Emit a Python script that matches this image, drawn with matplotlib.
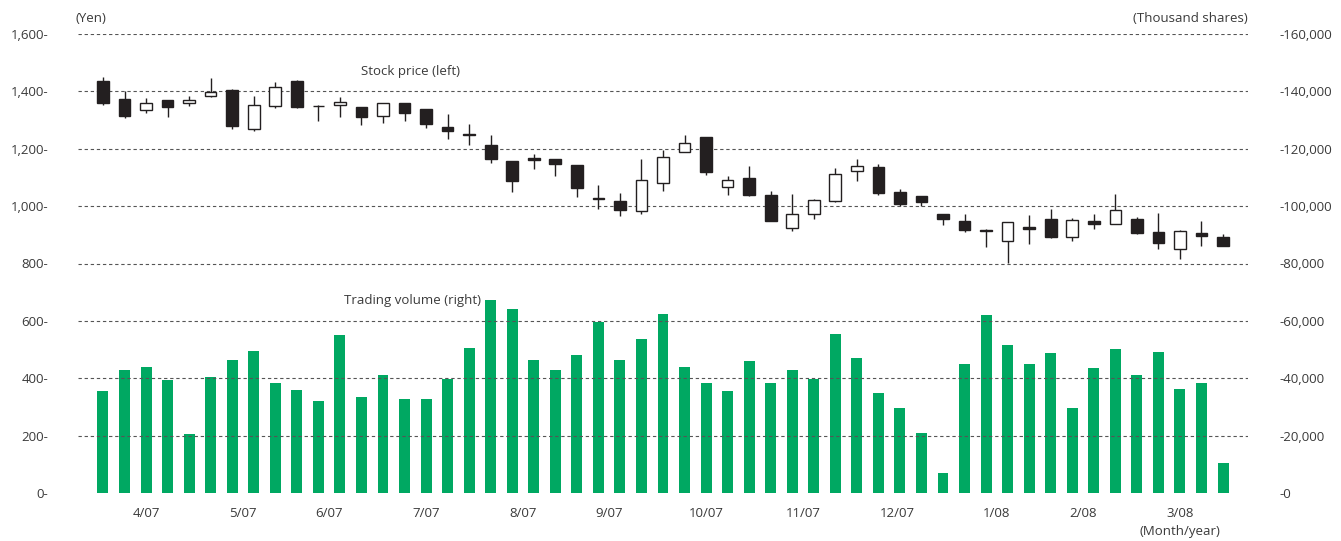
import matplotlib
matplotlib.use("Agg")
import matplotlib.pyplot as plt
import numpy as np

plt.rcParams['font.family'] = ['Open Sans', 'DejaVu Sans']

# weekly stock price (yen), Apr 2007 - Mar 2008
opens = [1435, 1372, 1334, 1371, 1358, 1383, 1406, 1269, 1348, 1436,
         1348, 1354, 1344, 1313, 1359, 1338, 1275, 1250, 1213, 1159,
         1169, 1166, 1142, 1027, 1017, 984, 1082, 1189, 1240, 1068,
         1099, 1038, 923, 972, 1018, 1121, 1137, 1049, 1037, 971,
         947, 918, 879, 928, 954, 894, 947, 938, 954, 909,
         849, 908, 892]
highs = [1449, 1402, 1378, 1371, 1385, 1445, 1409, 1385, 1431, 1438,
         1354, 1381, 1344, 1360, 1360, 1338, 1320, 1287, 1247, 1159,
         1181, 1166, 1144, 1073, 1045, 1163, 1195, 1247, 1240, 1104,
         1139, 1052, 1041, 1024, 1132, 1163, 1146, 1058, 1037, 971,
         972, 921, 945, 968, 989, 960, 971, 1041, 962, 975,
         916, 947, 902]
lows = [1352, 1307, 1325, 1311, 1349, 1380, 1269, 1263, 1343, 1342,
        1297, 1311, 1283, 1290, 1297, 1272, 1234, 1213, 1150, 1049,
        1130, 1105, 1032, 990, 966, 974, 1053, 1189, 1109, 1039,
        1036, 947, 914, 954, 1015, 1088, 1039, 1000, 1000, 935,
        909, 857, 803, 867, 889, 879, 921, 938, 903, 851,
        816, 860, 862]
closes = [1358, 1315, 1359, 1345, 1371, 1399, 1278, 1352, 1415, 1344,
          1349, 1364, 1311, 1359, 1325, 1287, 1263, 1249, 1164, 1087,
          1161, 1147, 1063, 1026, 988, 1092, 1170, 1219, 1118, 1091,
          1038, 947, 974, 1020, 1113, 1140, 1047, 1008, 1013, 954,
          916, 914, 945, 922, 893, 950, 939, 988, 906, 870,
          915, 897, 862]

# weekly trading volume (thousand shares)
volume = [35700, 43000, 44000, 39500, 20400, 40600, 46500, 49600, 38500, 36000,
          31900, 55200, 33600, 41300, 32600, 32600, 39700, 50700, 67400, 64200,
          46500, 43000, 48200, 59700, 46500, 53800, 62500, 44000, 38500, 35400,
          46100, 38500, 43000, 39900, 55500, 47200, 35000, 29800, 20800, 6800,
          45100, 62100, 51700, 45100, 48900, 29800, 43700, 50300, 41300, 49300,
          36100, 38500, 10300]

month_labels = ['4/07', '5/07', '6/07', '7/07', '8/07', '9/07', '10/07',
                '11/07', '12/07', '1/08', '2/08', '3/08']
month_pos = [2.0, 6.5, 10.5, 15.0, 19.5, 23.5, 28.0, 32.5, 36.9, 41.5, 45.5, 50.0]

green = '#00a862'
dark = '#231f20'
txt = '#3a3a3a'

fig = plt.figure(figsize=(13.41, 5.41), dpi=100)
ax = fig.add_axes([78 / 1341, 1 - 493 / 541, (1248 - 78) / 1341, (493 - 34) / 541])
ax2 = ax.twinx()

x = np.arange(len(opens))
o = np.array(opens)
c = np.array(closes)

# volume bars on the right axis
ax2.bar(x, volume, width=0.51, color=green, zorder=2)

# candlesticks on the left axis
up = c >= o
ax.vlines(x, lows, highs, color=dark, linewidth=1.0, zorder=3)
body_h = np.maximum(np.abs(c - o), 1.5)
ax.bar(x, body_h, bottom=np.minimum(o, c), width=0.54,
       color=np.where(up, 'white', dark), edgecolor=dark, linewidth=1.0, zorder=4)

ax.set_xlim(-1.16, 53.16)
ax.set_ylim(0, 1600)
ax2.set_ylim(0, 160000)

for a in (ax, ax2):
    for s in a.spines.values():
        s.set_visible(False)

# dashed grid lines
for v in range(200, 1601, 200):
    ax.axhline(v, color='#555555', linewidth=0.8, linestyle=(0, (3, 2.5)), zorder=1)

ax.set_yticks(range(0, 1601, 200))
ax.set_yticklabels(['{:,}-'.format(v) for v in range(0, 1601, 200)])
ax.tick_params(axis='y', length=0, pad=21.5, labelsize=9.5, labelcolor=txt)
ax2.set_yticks(range(0, 160001, 20000))
ax2.set_yticklabels(['-{:,}'.format(v) for v in range(0, 160001, 20000)])
ax2.tick_params(axis='y', length=0, pad=23, labelsize=9.5, labelcolor=txt)

ax.set_xticks(month_pos)
ax.set_xticklabels(month_labels)
ax.tick_params(axis='x', length=0, pad=10, labelsize=9.5, labelcolor=txt)

ax.set_zorder(ax2.get_zorder() + 1)
ax.patch.set_visible(False)

fig.text(75 / 1341, 1 - 19 / 541, '(Yen)', fontsize=9.5, color=txt, va='center')
fig.text(1248 / 1341, 1 - 19 / 541, '(Thousand shares)', fontsize=9.5, color=txt,
         va='center', ha='right')
fig.text(1180 / 1341, 1 - 532 / 541, '(Month/year)', fontsize=9.5, color=txt,
         va='center', ha='center')
ax.text(12.0, 1468, 'Stock price (left)', fontsize=9.5, color=txt, va='center')
ax.text(11.2, 670, 'Trading volume (right)', fontsize=9.5, color=txt, va='center')

fig.savefig('out.png', dpi=100)
